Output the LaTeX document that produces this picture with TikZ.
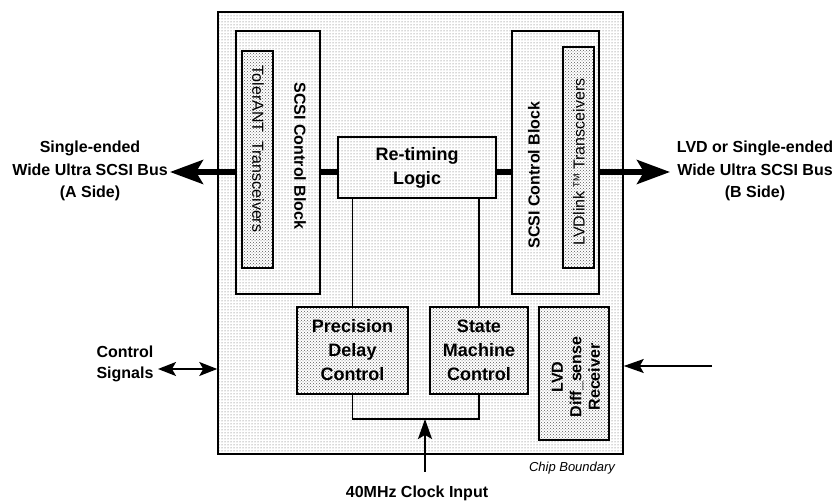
\documentclass[tikz,border=0pt]{standalone}
\usepackage{fontspec}
\setmainfont{Liberation Sans}
\usetikzlibrary{arrows.meta,patterns}
\colorlet{dotcol}{black!65!white}
\tikzstyle{chip}=[rectangle, draw, line width=1.5pt, inner sep=0pt, preaction={fill=white}, pattern=dots, pattern color=dotcol]
\tikzstyle{cell}=[chip, pattern=crosshatch dots]
\tikzstyle{lbl}=[font=\fontsize{16}{22.5}\selectfont\bfseries, align=center]
\tikzstyle{boxtext}=[font=\fontsize{18}{24}\selectfont\bfseries, align=center]
\tikzstyle{bus}=[line width=5.5pt]
\tikzstyle{busarrow}=[bus, -{Stealth[length=33pt,width=24pt,inset=7pt]}]
\tikzstyle{wire}=[line width=1.5pt]
\tikzstyle{sig}=[wire, -{Stealth[length=20pt,width=14pt,inset=4pt]}]
\tikzstyle{dsig}=[wire, {Stealth[length=18pt,width=14pt,inset=4pt]}-{Stealth[length=18pt,width=14pt,inset=4pt]}]

\begin{document}
\begin{tikzpicture}[x=1pt, y=-1pt]
			\useasboundingbox (0,0) rectangle (839,502);

			% Chip and blocks
			\node[chip, minimum width=405pt, minimum height=442pt] (chip) at (420.5,233) {};
			\node[chip, minimum width=84pt, minimum height=263pt] (ablock) at (278,162.5) {};
			\node[cell, minimum width=31pt, minimum height=217pt] (atrx) at (257.5,159.5) {};
			\node[chip, minimum width=87pt, minimum height=263pt] (bblock) at (555.5,162.5) {};
			\node[cell, minimum width=31pt, minimum height=221pt] (btrx) at (578.5,157.5) {};
			\node[chip, boxtext, minimum width=158pt, minimum height=61pt] (retime) at (417,167.5) {Re-timing\\Logic};
			\node[cell, boxtext, minimum width=111pt, minimum height=87pt] (delay) at (352.5,350.5) {Precision\\Delay\\Control};
			\node[cell, boxtext, minimum width=98pt, minimum height=87pt] (fsm) at (479,350.5) {State\\Machine\\Control};
			\node[cell, minimum width=70pt, minimum height=133pt] (rcv) at (574,373.5) {};

			% Rotated labels
			\node[lbl, rotate=-90] (ablocktxt) at (300,156) {SCSI Control Block};
			\node[rotate=-90, font=\fontsize{16}{18}\selectfont] (atrxtxt) at (258,149) {TolerANT\ \ Transceivers};
			\node[lbl, rotate=90] (bblocktxt) at (534,175) {SCSI Control Block};
			\node[rotate=90, font=\fontsize{16}{18}\selectfont] (btrxtxt) at (579,162) {LVDlink {\fontsize{9}{9}\selectfont\raisebox{5pt}{TM}} Transceivers};
			\node[lbl, rotate=90, font=\fontsize{16}{18.5}\selectfont\bfseries] (rcvtxt) at (576,377) {LVD\\Diff\_sense\\Receiver};

			% Outside labels
			\node[lbl] (aside) at (90,171) {Single-ended\\Wide Ultra SCSI Bus\\(A Side)};
			\node[lbl] (bside) at (755,171) {LVD or Single-ended\\Wide Ultra SCSI Bus\\(B Side)};
			\node[lbl, font=\fontsize{16}{21}\selectfont\bfseries] (ctrl) at (125,364) {Control\\Signals};
			\node[lbl] (clktxt) at (417,493) {40MHz Clock Input};
			\node[font=\fontsize{13}{13}\selectfont\itshape] (chiptxt) at (572,468) {Chip Boundary};

			\coordinate (atip) at (170,172);
			\coordinate (btip) at (670,172);
			\coordinate (clk) at (425,419);
			\coordinate (clkin) at (425,472);
			\coordinate (ctrltip) at (158,369);
			\coordinate (sensein) at (712,366);

			% Bus
			\draw[busarrow] (ablock.west |- atip) -- (atip);
			\draw[bus] (ablock.east |- atip) -- (retime.west |- atip);
			\draw[bus] (retime.east |- atip) -- (bblock.west |- atip);
			\draw[busarrow] (bblock.east |- btip) -- (btip);
			% Internal wires
			\draw[wire] (delay.north |- retime.south) -- (delay.north);
			\draw[wire] (fsm.north |- retime.south) -- (fsm.north);
			\draw[wire] (delay.south) |- (clk) -| (fsm.south);
			% Signals
			\draw[sig] (clkin) -- (clk);
			\draw[dsig] (ctrltip) -- (chip.west |- ctrltip);
			\draw[sig] (sensein) -- (chip.east |- sensein);
		\end{tikzpicture}
\end{document}
